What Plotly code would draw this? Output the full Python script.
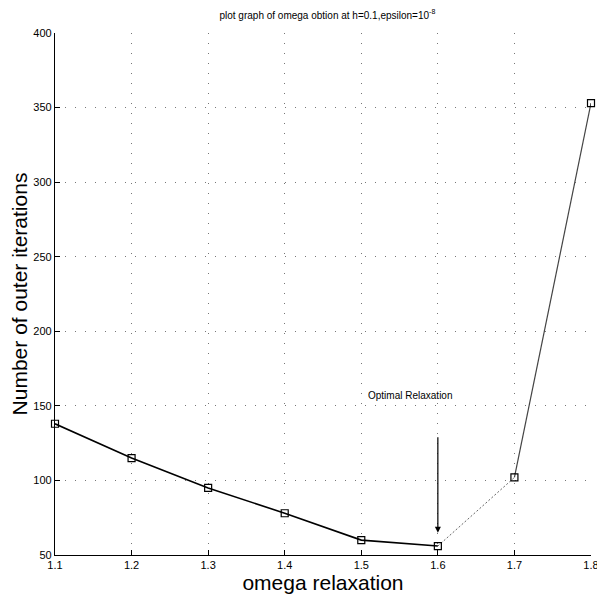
import plotly.graph_objects as go

omega = [1.1, 1.2, 1.3, 1.4, 1.5, 1.6, 1.7, 1.8]
iterations = [138, 115, 95, 78, 60, 56, 102, 353]
x_ticks = [1.1, 1.2, 1.3, 1.4, 1.5, 1.6, 1.7, 1.8]
y_ticks = [50, 100, 150, 200, 250, 300, 350, 400]

FONT = "Liberation Sans, Arial"

fig = go.Figure()
# solid part 1.1 - 1.6
fig.add_trace(go.Scatter(x=omega[:6], y=iterations[:6], mode="lines",
                         line=dict(color="black", width=1.6), showlegend=False,
                         cliponaxis=False))
# dotted part 1.6 - 1.7
fig.add_trace(go.Scatter(x=omega[5:7], y=iterations[5:7], mode="lines",
                         line=dict(color="#666666", width=1, dash="2px,2px"), showlegend=False,
                         cliponaxis=False))
# solid part 1.7 - 1.8
fig.add_trace(go.Scatter(x=omega[6:], y=iterations[6:], mode="lines",
                         line=dict(color="#444444", width=1.2), showlegend=False,
                         cliponaxis=False))
fig.add_trace(go.Scatter(x=omega, y=iterations, mode="markers",
                         marker=dict(symbol="square-open", size=7, color="black",
                                     line=dict(width=1.2)),
                         showlegend=False, cliponaxis=False))

fig.add_annotation(x=1.6, y=iterations[5] + 9, ax=1.6, ay=130,
                   xref="x", yref="y", axref="x", ayref="y",
                   showarrow=True, arrowhead=2, arrowsize=1, arrowwidth=1.2,
                   arrowcolor="black", text="")
fig.add_annotation(x=1.564, y=157, xref="x", yref="y", text="Optimal Relaxation",
                   showarrow=False, font=dict(size=10, color="black", family=FONT))

axis_common = dict(showline=True, linecolor="black", linewidth=1.2,
                   ticks="inside", ticklen=5, tickcolor="black",
                   showgrid=True, gridcolor="#777777", griddash="1px,9px", gridwidth=1,
                   zeroline=False, mirror=False, automargin=False,
                   ticklabeloverflow="allow",
                   tickfont=dict(size=11, color="black", family=FONT))

fig.update_xaxes(range=[1.1, 1.8], tickvals=x_ticks,
                 ticktext=[f"{v:.1f}" for v in x_ticks],
                 title=dict(text="omega relaxation", standoff=2,
                            font=dict(size=21, color="black", family=FONT)),
                 **axis_common)
fig.update_yaxes(range=[50, 400], tickvals=y_ticks,
                 title=dict(text="Number of outer iterations", standoff=4,
                            font=dict(size=21, color="black", family=FONT)),
                 **axis_common)

fig.update_layout(
    width=597, height=588,
    margin=dict(l=47, r=14, t=25, b=41),
    paper_bgcolor="white", plot_bgcolor="white",
    title=dict(text="plot graph of omega obtion at h=0.1,epsilon=10<sup>-8</sup>",
               x=0.535, xanchor="center", y=0.988, yanchor="middle",
               pad=dict(t=0, b=0, l=0, r=0),
               font=dict(size=10, color="black", family=FONT)),
)

fig.write_html("out.html")
